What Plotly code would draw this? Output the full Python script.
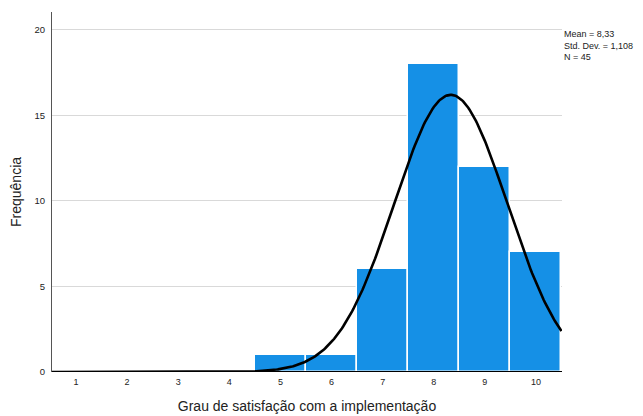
import numpy as np
import plotly.graph_objects as go

categories = [1, 2, 3, 4, 5, 6, 7, 8, 9, 10]
frequencies = [0, 0, 0, 0, 1, 1, 6, 18, 12, 7]
y_ticks = [0, 5, 10, 15, 20]

# statistics derived from the histogram data (as in the SPSS legend)
vals = np.repeat(categories, frequencies)
n = len(vals)
mean = vals.mean()
sd = vals.std(ddof=1)

xs = np.linspace(0.53, 10.5, 400)
curve = n * 1.0 / (sd * np.sqrt(2 * np.pi)) * np.exp(-0.5 * ((xs - mean) / sd) ** 2)

fig = go.Figure()
fig.add_trace(go.Bar(
    x=categories, y=frequencies, width=1.0,
    marker=dict(color="#1590e6", line=dict(color="white", width=1.5)),
    hoverinfo="skip",
))
fig.add_trace(go.Scatter(
    x=xs, y=curve, mode="lines",
    line=dict(color="black", width=2.6), hoverinfo="skip",
))

def fmt(v, d):
    return f"{v:.{d}f}".replace(".", ",")

fig.add_annotation(
    xref="paper", yref="paper", x=1.0, y=0.957, xanchor="left", yanchor="top",
    text=f"Mean = {fmt(mean,2)}<br>Std. Dev. = {fmt(sd,3)}<br>N = {n}",
    showarrow=False, align="left",
    font=dict(family="Liberation Sans, Arial", size=9, color="#222"),
)

fig.update_layout(
    width=643, height=416,
    margin=dict(l=44, r=89, t=4, b=52, autoexpand=False),
    paper_bgcolor="white", plot_bgcolor="white",
    showlegend=False, bargap=0,
    font=dict(family="Liberation Sans, Arial", color="#222"),
    xaxis=dict(
        range=[0.53, 10.51], tickvals=categories, ticktext=[str(c) for c in categories],
        showgrid=False, zeroline=False, showline=False, ticks="",
        tickfont=dict(size=9, color="#222"), ticklabelstandoff=3, automargin=False,
        title=dict(text="Grau de satisfação com a implementação", font=dict(size=14, color="#222"), standoff=15),
    ),
    yaxis=dict(
        range=[0, 21.05], tickvals=y_ticks,
        showgrid=True, gridcolor="#d9d9d9", gridwidth=1,
        zeroline=False, showline=True, linecolor="#555", linewidth=1, ticks="",
        tickfont=dict(size=9.5, color="#222"), ticklabelstandoff=4, automargin=False,
        title=dict(text="Frequência", font=dict(size=14, color="#222"), standoff=16),
    ),
)
fig.add_shape(type="line", xref="paper", yref="y", x0=0, x1=1, y0=0, y1=0,
              line=dict(color="black", width=2))

fig.write_html("out.html")
